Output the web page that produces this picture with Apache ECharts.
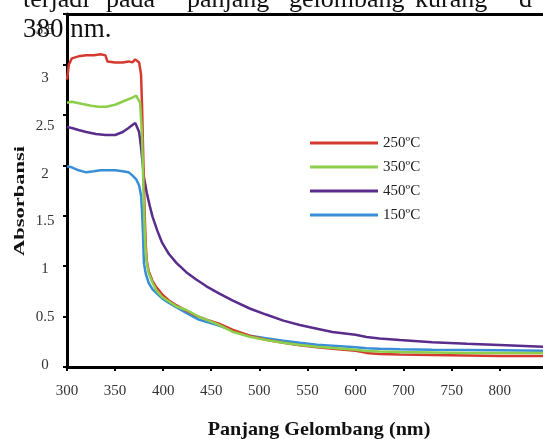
<!DOCTYPE html>
<html>
<head>
<meta charset="utf-8">
<script src="https://cdn.jsdelivr.net/npm/echarts@6/dist/echarts.min.js"></script>
<style>
html,body{margin:0;padding:0;background:#fff;}
#c{width:543px;height:439px;}
</style>
</head>
<body>
<div id="c"></div>
<script>
// ---- data ----
const xTickLabels = ['300','350','400','450','500','550','600','700','750','800'];
const yTickLabels = ['0','0.5','1','1.5','2','2.5','3','3.5'];
const seriesNames = ['250ºC','350ºC','450ºC','150ºC'];

const nm250 = [300,302,305,312,320,328,335,340,342,350,358,364,368,371,373,375,377,378,379,380,381,382,383,385,389,393,399,406,414,424,434,445,458,472,490,507,525,542,560,576,600,623,650,692,730,766,800,845];
const abs250 = [2.85,3.0,3.06,3.08,3.09,3.09,3.10,3.09,3.03,3.02,3.02,3.03,3.02,3.05,3.05,3.02,2.9,2.6,2.2,1.8,1.45,1.2,1.05,0.95,0.85,0.79,0.72,0.66,0.61,0.56,0.51,0.47,0.43,0.37,0.31,0.27,0.24,0.215,0.195,0.18,0.16,0.14,0.13,0.125,0.12,0.115,0.11,0.11];

const nm350 = [300,305,315,325,333,341,350,360,368,372,374,376,378,379,380,381,382,383,385,389,393,399,406,414,424,437,458,472,490,507,525,542,560,576,600,623,650,692,730,766,800,845];
const abs350 = [2.62,2.63,2.61,2.59,2.58,2.58,2.6,2.64,2.67,2.69,2.69,2.62,2.3,1.95,1.6,1.3,1.12,1.03,0.93,0.833,0.76,0.694,0.65,0.6,0.565,0.5,0.417,0.35,0.3,0.268,0.24,0.218,0.2,0.188,0.17,0.159,0.153,0.149,0.145,0.14,0.14,0.139];

const nm450 = [300,305,312,320,330,340,350,358,364,368,371,373,375,377,380,383,386,389,394,399,406,414,424,434,445,458,472,490,507,525,542,560,576,600,623,650,692,730,766,800,845];
const abs450 = [2.38,2.37,2.35,2.33,2.31,2.30,2.30,2.33,2.37,2.40,2.42,2.41,2.33,2.18,1.885,1.726,1.6,1.488,1.35,1.23,1.12,1.03,0.94,0.87,0.8,0.73,0.66,0.58,0.52,0.46,0.417,0.38,0.347,0.32,0.298,0.283,0.268,0.245,0.23,0.218,0.2];

const nm150 = [300,305,312,320,328,335,343,350,358,364,368,372,375,377,378,379,380,382,385,389,393,399,406,414,424,437,458,472,490,507,525,542,560,576,600,623,650,692,730,766,800,845];
const abs150 = [1.99,1.98,1.95,1.93,1.94,1.95,1.95,1.95,1.94,1.93,1.9,1.86,1.8,1.7,1.55,1.33,1.03,0.92,0.833,0.77,0.734,0.68,0.635,0.59,0.536,0.47,0.41,0.36,0.31,0.285,0.26,0.24,0.22,0.21,0.195,0.185,0.18,0.175,0.17,0.168,0.165,0.16];

// the printed axis is not linear (600 -> 700 occupies one step); map nm to tick position
function nmToPos(nm){
  if (nm <= 600) return (nm - 300) / 50;
  if (nm <= 700) return 6 + (nm - 600) / 100;
  return 7 + (nm - 700) / 50;
}
function build(nms, vals){ return nms.map((n,i)=>[nmToPos(n), vals[i]]); }

const colors = {'250ºC':'#d43a30','350ºC':'#8dcf4a','450ºC':'#5a2d8c','150ºC':'#3a8ed8'};
const dataMap = {'250ºC':build(nm250,abs250),'350ºC':build(nm350,abs350),'450ºC':build(nm450,abs450),'150ºC':build(nm150,abs150)};
const drawOrder = ['450ºC','150ºC','250ºC','350ºC'];

const serif = 'Liberation Serif';
const chart = echarts.init(document.getElementById('c'), null, {renderer:'canvas'});

chart.setOption({
  backgroundColor:'#fff',
  animation:false,
  grid:[
    {left:67, right:0, top:14, bottom:72},
    {left:67, right:0, top:30, bottom:74}
  ],
  legend:{
    data: seriesNames,
    orient:'vertical',
    left:305, top:130,
    icon:'rect',
    itemWidth:68, itemHeight:3,
    itemGap:8,
    textStyle:{fontFamily:serif, fontSize:15, color:'#222', lineHeight:16}
  },
  xAxis:[
    {type:'value', gridIndex:0, min:0, max:9.9, interval:1, position:'bottom',
     axisLine:{show:true, onZero:false, lineStyle:{color:'#000', width:3}},
     axisTick:{show:true, inside:false, length:4, lineStyle:{color:'#000', width:2}},
     axisLabel:{margin:17, fontFamily:serif, fontSize:15, color:'#333', showMaxLabel:false,
       formatter:function(v){ const i=Math.round(v); return (Math.abs(v-i)<1e-6 && i<xTickLabels.length) ? xTickLabels[i] : ''; }},
     splitLine:{show:false}},
    {type:'value', gridIndex:0, min:0, max:9.9, interval:1, position:'top',
     axisLine:{show:true, onZero:false, lineStyle:{color:'#000', width:3}},
     axisTick:{show:false}, axisLabel:{show:false}, splitLine:{show:false}},
    {type:'value', gridIndex:1, min:0, max:9.9, show:false}
  ],
  yAxis:[
    {type:'value', gridIndex:0, min:0, max:3.5, interval:0.5,
     axisLine:{show:true, onZero:false, lineStyle:{color:'#000', width:3}},
     axisTick:{show:true, inside:false, length:4, lineStyle:{color:'#000', width:2}},
     axisLabel:{show:false}, splitLine:{show:false}},
    {type:'value', gridIndex:1, min:0, max:3.5, interval:0.5,
     axisLine:{show:false}, axisTick:{show:false}, splitLine:{show:false},
     axisLabel:{margin:22, align:'center', fontFamily:serif, fontSize:15, color:'#333',
       formatter:function(v){ const i=Math.round(v/0.5); return yTickLabels[i] || ''; }}}
  ],
  series: drawOrder.map(name => ({
    name:name, type:'line', xAxisIndex:0, yAxisIndex:0,
    data:dataMap[name], showSymbol:false, smooth:false,
    lineStyle:{color:colors[name], width:2.5},
    itemStyle:{color:colors[name]}
  })),
  graphic:[
    {type:'text', x:319, y:430, scaleX:1.06, z:10,
     style:{text:'Panjang Gelombang (nm)', font:'bold 19px "Liberation Serif"', fill:'#111', align:'center', verticalAlign:'middle'}},
    {type:'text', x:20, y:201, rotation:Math.PI/2, scaleX:1.5, z:10,
     style:{text:'Absorbansi', font:'bold 15px "Liberation Serif"', fill:'#111', align:'center', verticalAlign:'middle'}},
    {type:'text', x:23, y:0, z:1, style:{text:'terjadi', font:'26px "Liberation Serif"', fill:'#111', verticalAlign:'middle'}},
    {type:'text', x:106, y:0, z:1, style:{text:'pada', font:'26px "Liberation Serif"', fill:'#111', verticalAlign:'middle'}},
    {type:'text', x:187, y:0, z:1, style:{text:'panjang', font:'26px "Liberation Serif"', fill:'#111', verticalAlign:'middle'}},
    {type:'text', x:289, y:0, z:1, style:{text:'gelombang', font:'26px "Liberation Serif"', fill:'#111', verticalAlign:'middle'}},
    {type:'text', x:415, y:0, z:1, style:{text:'kurang', font:'26px "Liberation Serif"', fill:'#111', verticalAlign:'middle'}},
    {type:'text', x:519, y:0, z:1, style:{text:'d', font:'26px "Liberation Serif"', fill:'#111', verticalAlign:'middle'}},
    {type:'text', x:23, y:30, z:1, style:{text:'380 nm.', font:'27px "Liberation Serif"', fill:'#111', verticalAlign:'middle'}}
  ]
});
</script>
</body>
</html>
